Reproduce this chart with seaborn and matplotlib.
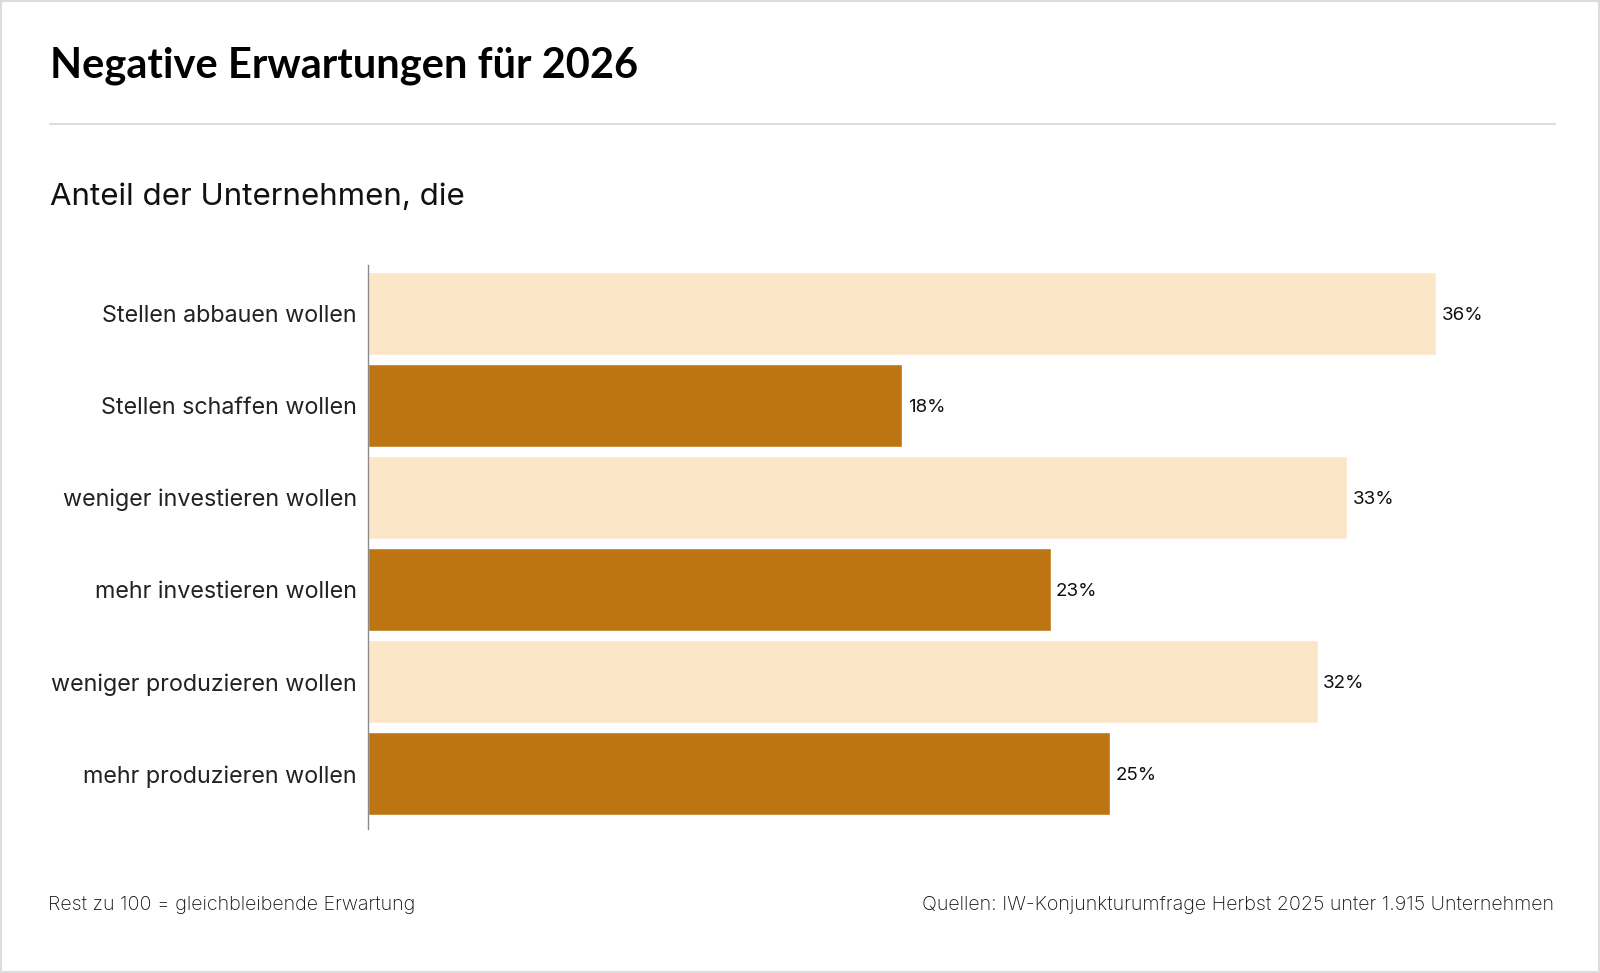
import matplotlib
matplotlib.use("Agg")
import matplotlib.pyplot as plt
import seaborn as sns
import pandas as pd
from matplotlib.patches import Rectangle
from matplotlib.lines import Line2D

# Daten
categories = [
    "Stellen abbauen wollen",
    "Stellen schaffen wollen",
    "weniger investieren wollen",
    "mehr investieren wollen",
    "weniger produzieren wollen",
    "mehr produzieren wollen",
]
values = [36, 18, 33, 23, 32, 25]
kind = ["negativ", "positiv", "negativ", "positiv", "negativ", "positiv"]

title = "Negative Erwartungen für 2026"
subtitle = "Anteil der Unternehmen, die"
note = "Rest zu 100 = gleichbleibende Erwartung"
source = "Quellen: IW-Konjunkturumfrage Herbst 2025 unter 1.915 Unternehmen"

palette = {"negativ": "#fce6c8", "positiv": "#bc7512"}

sns.set_theme(style="white")
plt.rcParams["font.family"] = ["Inter", "DejaVu Sans"]
title_font = ["Lato", "DejaVu Sans"]

df = pd.DataFrame({"Kategorie": categories, "Wert": values, "Art": kind})

fig = plt.figure(figsize=(16, 9.73), dpi=100)
ax = fig.add_axes([0.230, 0.148, 0.742, 0.580])

sns.barplot(data=df, x="Wert", y="Kategorie", hue="Art", palette=palette,
            dodge=False, width=0.9, legend=False, ax=ax, saturation=1)

ax.set_xlim(0, 40)
ax.set_ylim(5.6, -0.533)
ax.set_xlabel("")
ax.set_ylabel("")
ax.set_xticks([])
for s in ["top", "right", "bottom"]:
    ax.spines[s].set_visible(False)
ax.spines["left"].set_color("#8a8a8a")
ax.spines["left"].set_linewidth(1)
ax.tick_params(axis="y", length=0, pad=8, labelsize=16.8, labelcolor="#222222")

# Werte an die Balken
for i, v in enumerate(values):
    ax.text(v + 0.18, i, f"{v}%", va="center_baseline", ha="left", fontsize=13.5,
            color="#111111")

# Kopf und Fuss
fig.text(0.031, 0.920, title, fontsize=30, fontweight="bold", color="#000000",
         va="baseline", family=title_font)
fig.add_artist(Line2D([0.031, 0.972], [0.8726, 0.8726], color="#dddddd", lw=1.5,
                      transform=fig.transFigure))
fig.text(0.031, 0.789, subtitle, fontsize=22.5, color="#111111", va="baseline")
fig.text(0.030, 0.0647, note, fontsize=14.2, fontweight="light", color="#111111",
         va="baseline")
fig.text(0.971, 0.0647, source, fontsize=14.2, fontweight="light", color="#111111",
         va="baseline", ha="right")

fig.add_artist(Rectangle((0, 0), 1, 1, transform=fig.transFigure, fill=False,
                         edgecolor="#dcdcdc", lw=3))

fig.savefig("out.png", dpi=100)
